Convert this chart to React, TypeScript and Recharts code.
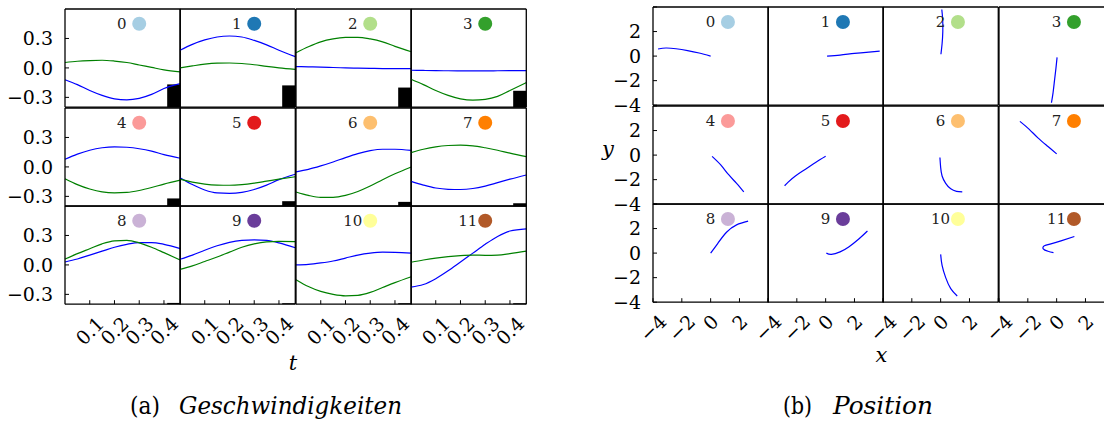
import React from "react";
import { LineChart, Line, XAxis, YAxis, ReferenceArea, ReferenceDot } from "recharts";

// Paired colour map, one per particle
const particleColors = [
  "#a6cee3", "#1f78b4", "#b2df8a", "#33a02c", "#fb9a99", "#e31a1c",
  "#fdbf6f", "#ff7f00", "#cab2d6", "#6a3d9a", "#ffff99", "#b15928",
];

// (a) velocities over time
const times = [0, 0.05, 0.1, 0.15, 0.2, 0.25, 0.3, 0.35, 0.4, 0.466];
const velBlue = [
  [-0.12, -0.17, -0.23, -0.28, -0.315, -0.325, -0.31, -0.27, -0.21, -0.16],
  [0.18, 0.24, 0.285, 0.315, 0.325, 0.315, 0.28, 0.235, 0.18, 0.115],
  [0.013, 0.011, 0.008, 0.004, 0.0, -0.003, -0.005, -0.007, -0.008, -0.008],
  [-0.024, -0.026, -0.028, -0.029, -0.03, -0.03, -0.03, -0.029, -0.028, -0.027],
  [0.078, 0.13, 0.17, 0.195, 0.205, 0.2, 0.185, 0.16, 0.125, 0.088],
  [-0.11, -0.18, -0.235, -0.265, -0.27, -0.26, -0.23, -0.185, -0.13, -0.075],
  [-0.05, -0.025, 0.01, 0.05, 0.095, 0.135, 0.165, 0.18, 0.18, 0.168],
  [-0.147, -0.185, -0.215, -0.228, -0.23, -0.22, -0.195, -0.16, -0.125, -0.082],
  [0.03, 0.06, 0.1, 0.14, 0.18, 0.21, 0.228, 0.228, 0.21, 0.166],
  [0.058, 0.1, 0.15, 0.195, 0.23, 0.25, 0.256, 0.25, 0.225, 0.175],
  [0.0, 0.005, 0.02, 0.04, 0.07, 0.1, 0.12, 0.13, 0.128, 0.12],
  [-0.226, -0.2, -0.14, -0.06, 0.03, 0.12, 0.21, 0.29, 0.345, 0.368],
];
const velGreen = [
  [0.055, 0.068, 0.075, 0.078, 0.07, 0.055, 0.03, 0.005, -0.02, -0.04],
  [0.0, 0.02, 0.038, 0.048, 0.05, 0.045, 0.032, 0.015, 0.0, -0.015],
  [0.155, 0.215, 0.265, 0.295, 0.31, 0.312, 0.295, 0.265, 0.22, 0.165],
  [-0.115, -0.17, -0.23, -0.28, -0.315, -0.328, -0.32, -0.29, -0.23, -0.15],
  [-0.12, -0.18, -0.225, -0.255, -0.265, -0.26, -0.24, -0.21, -0.175, -0.135],
  [-0.125, -0.155, -0.175, -0.185, -0.187, -0.18, -0.165, -0.145, -0.125, -0.1],
  [-0.255, -0.29, -0.31, -0.31, -0.29, -0.25, -0.195, -0.13, -0.07, 0.0],
  [0.145, 0.18, 0.205, 0.218, 0.222, 0.215, 0.195, 0.17, 0.14, 0.105],
  [0.06, 0.115, 0.165, 0.215, 0.245, 0.25, 0.225, 0.18, 0.125, 0.05],
  [-0.045, -0.01, 0.035, 0.08, 0.13, 0.18, 0.215, 0.235, 0.24, 0.238],
  [-0.15, -0.22, -0.27, -0.3, -0.315, -0.31, -0.28, -0.23, -0.18, -0.12],
  [0.027, 0.05, 0.07, 0.085, 0.095, 0.1, 0.098, 0.1, 0.115, 0.14],
];
// black block in the lower right corner of each velocity panel
const blockStart = 0.413;
const blockTop = [-0.168, -0.178, -0.2, -0.233, -0.321, -0.349, -0.356, -0.37, -0.387, -0.39, -0.39, -0.39];
const velTicksX = [0.1, 0.2, 0.3, 0.4];
const velTicksY = [-0.3, 0, 0.3];

// (b) positions
const posX = [
  [0, -0.8, -1.6, -2.4, -3.1, -3.65],
  [0.1, 1.0, 2.0, 3.0, 3.75],
  [0.02, 0.1, 0.15, 0.14, 0.08],
  [0.03, -0.05, -0.15, -0.25, -0.36],
  [0.1, 0.7, 1.25, 1.8, 2.3],
  [0, -0.7, -1.4, -2.1, -2.6, -2.85],
  [-0.05, 0.0, 0.1, 0.35, 0.7, 1.1, 1.5],
  [0, -0.6, -1.3, -1.9, -2.55],
  [0, 0.5, 1.1, 1.8, 2.6],
  [0.05, 0.4, 1.0, 1.6, 2.3, 2.9],
  [0, 0.1, 0.35, 0.7, 1.15],
  [-0.22, -0.6, -0.93, -0.85, -0.4, 0.3, 1.23],
];
const posY = [
  [0, 0.25, 0.45, 0.6, 0.66, 0.58],
  [0, 0.08, 0.22, 0.33, 0.4],
  [0.15, 1.0, 2.0, 3.0, 3.8],
  [-0.1, -1, -2, -3, -3.8],
  [-0.1, -0.8, -1.6, -2.3, -3.0],
  [-0.1, -0.6, -1.15, -1.7, -2.2, -2.5],
  [-0.2, -1.0, -1.7, -2.3, -2.75, -2.95, -3.0],
  [0.1, 0.7, 1.4, 2.1, 2.75],
  [0, 0.8, 1.7, 2.3, 2.6],
  [0, -0.1, 0.1, 0.5, 1.15, 1.8],
  [-0.1, -1.0, -2.0, -2.9, -3.5],
  [0.04, 0.15, 0.35, 0.6, 0.75, 0.99, 1.35],
];
const posTicks = [-4, -2, 0, 2, 4];
const posLabels = [-4, -2, 0, 2];

const FONT = "DejaVu Serif";
const TICK_FS = 19;
const AX = { stroke: "#000", strokeWidth: 1.3 };
const TL = { stroke: "#000", strokeWidth: 1 };

const fmtVel = (v: number) => v.toFixed(1).replace("-", "\u2212");
const fmtPos = (v: number) => String(v).replace("-", "\u2212");
const charW = (c: string) => (c === "." ? 0.318 : c === "\u2212" ? 0.838 : 0.636);

function RotTick(props: any) {
  const { x, y, payload, show, fmt } = props;
  if (!show.includes(payload.value)) return null;
  const s = fmt(payload.value);
  const len = s.split("").reduce((a: number, c: string) => a + charW(c), 0) * TICK_FS;
  const cy = y + 11 + (0.707 * (len + 13.5)) / 2;
  return (
    <text x={x} y={cy} transform={`rotate(-45 ${x} ${cy})`} textAnchor="middle"
      dominantBaseline="central" fontSize={TICK_FS} fill="#000" fontFamily={FONT}>
      {s}
    </text>
  );
}

type PanelProps = {
  left: number; top: number; w: number; h: number;
  data: any[]; xKey: string; lines: { key: string; color: string; type: any }[];
  xDomain: [number, number]; yDomain: [number, number];
  xTicks: number[]; yTicks: number[];
  xLabels?: number[]; yLabels?: number[]; fmt: (v: number) => string;
  idx: number; dot: { x: number; y: number };
  block?: { x1: number; x2: number; y1: number; y2: number };
};

function Panel(p: PanelProps) {
  const ML = p.yLabels ? 62 : 20;
  const MB = p.xLabels ? 64 : 16;
  const MT = 4;
  const MR = 20;
  const label = String(p.idx);
  return (
    <div style={{ position: "absolute", left: p.left - ML, top: p.top - MT }}>
      <LineChart width={p.w + ML + MR} height={p.h + MT + MB} data={p.data}
        margin={{ top: 0, right: 0, bottom: 0, left: 0 }}>
        <XAxis xAxisId="b" dataKey={p.xKey} type="number" domain={p.xDomain} ticks={p.xTicks}
          interval={0} height={MB} tickSize={-4} tickMargin={4} axisLine={AX} tickLine={TL}
          tick={p.xLabels ? <RotTick show={p.xLabels} fmt={p.fmt} /> : false} />
        <XAxis xAxisId="t" orientation="top" dataKey={p.xKey} type="number" domain={p.xDomain}
          ticks={p.xTicks} interval={0} height={MT} tickSize={-4} axisLine={AX} tickLine={TL} tick={false} />
        <YAxis yAxisId="l" type="number" domain={p.yDomain} ticks={p.yTicks} interval={0} width={ML}
          tickSize={-4} tickMargin={16} axisLine={AX} tickLine={TL}
          tick={p.yLabels ? { fontSize: TICK_FS, fill: "#000", fontFamily: FONT } : false}
          tickFormatter={(v: number) => (p.yLabels && p.yLabels.includes(v) ? p.fmt(v) : "")} />
        <YAxis yAxisId="r" orientation="right" type="number" domain={p.yDomain} ticks={p.yTicks}
          interval={0} width={MR} tickSize={-4} axisLine={AX} tickLine={TL} tick={false} />
        {p.block && (
          <ReferenceArea xAxisId="b" yAxisId="l" x1={p.block.x1} x2={p.block.x2} y1={p.block.y1}
            y2={p.block.y2} fill="#000" fillOpacity={1} stroke="none" />
        )}
        {p.lines.map((l) => (
          <Line key={l.key} xAxisId="b" yAxisId="l" dataKey={l.key} stroke={l.color} strokeWidth={1.2}
            type={l.type} dot={false} isAnimationActive={false} />
        ))}
        <ReferenceDot xAxisId="b" yAxisId="l" x={p.dot.x} y={p.dot.y}
          shape={(s: any) => (
            <g>
              <circle cx={s.cx} cy={s.cy} r={7} fill={particleColors[p.idx]} />
              <text x={s.cx - 17.5} y={s.cy} textAnchor="middle" dominantBaseline="central"
                fontSize={15} fill="#222" fontFamily={FONT}>{label}</text>
            </g>
          )} />
      </LineChart>
    </div>
  );
}

const CW = 115.3;
const RH = 98.2;

export default function App() {
  const panels: React.ReactNode[] = [];
  for (let i = 0; i < 12; i++) {
    const c = i % 4;
    const r = Math.floor(i / 4);
    const vData = times.map((t, k) => ({ t, b: velBlue[i][k], g: velGreen[i][k] }));
    panels.push(
      <Panel key={"v" + i} left={65 + c * CW} top={9.3 + r * RH} w={CW} h={RH}
        data={vData} xKey="t"
        lines={[{ key: "b", color: "#0000ff", type: "monotone" }, { key: "g", color: "#008000", type: "monotone" }]}
        xDomain={[0, 0.466]} yDomain={[-0.4, 0.6]} xTicks={velTicksX} yTicks={velTicksY}
        xLabels={r === 2 ? velTicksX : undefined} yLabels={c === 0 ? velTicksY : undefined}
        fmt={fmtVel} idx={i} dot={{ x: 0.3, y: 0.45 }}
        block={{ x1: blockStart, x2: 0.466, y1: -0.4, y2: blockTop[i] }} />
    );
    const pData = posX[i].map((x, k) => ({ x, y: posY[i][k] }));
    panels.push(
      <Panel key={"p" + i} left={652.7 + c * CW} top={7.3 + r * RH} w={CW} h={RH}
        data={pData} xKey="x"
        lines={[{ key: "y", color: "#0000ff", type: "natural" }]}
        xDomain={[-4, 4]} yDomain={[-4, 4]} xTicks={posTicks} yTicks={posTicks}
        xLabels={r === 2 ? posLabels : undefined} yLabels={c === 0 ? posLabels : undefined}
        fmt={fmtPos} idx={i} dot={{ x: 1.2, y: 2.78 }} />
    );
  }
  return (
    <div style={{ position: "absolute", left: 0, top: 0, width: 1104, height: 428, overflow: "hidden", background: "#fff", fontFamily: FONT }}>
      {panels}
      <svg width={1104} height={428} style={{ position: "absolute", left: 0, top: 0, pointerEvents: "none" }}
        fill="#000">
        <text x={293} y={370} fontSize={21} fontStyle="italic" textAnchor="middle" fontFamily={FONT}>t</text>
        <text x={881.5} y={362} fontSize={21} fontStyle="italic" textAnchor="middle" fontFamily={FONT}>x</text>
        <text x={608} y={156} fontSize={21} fontStyle="italic" textAnchor="middle" fontFamily={FONT}>y</text>
        <text x={130} y={414} fontSize={25} fontFamily={FONT} textLength={30} lengthAdjust="spacingAndGlyphs">(a)</text>
        <text x={179} y={414} fontSize={25} fontStyle="italic" textLength={223} lengthAdjust="spacingAndGlyphs" fontFamily={FONT}>Geschwindigkeiten</text>
        <text x={783} y={414} fontSize={25} fontFamily={FONT} textLength={29} lengthAdjust="spacingAndGlyphs">(b)</text>
        <text x={833} y={414} fontSize={25} fontStyle="italic" textLength={100} lengthAdjust="spacingAndGlyphs" fontFamily={FONT}>Position</text>
      </svg>
    </div>
  );
}
